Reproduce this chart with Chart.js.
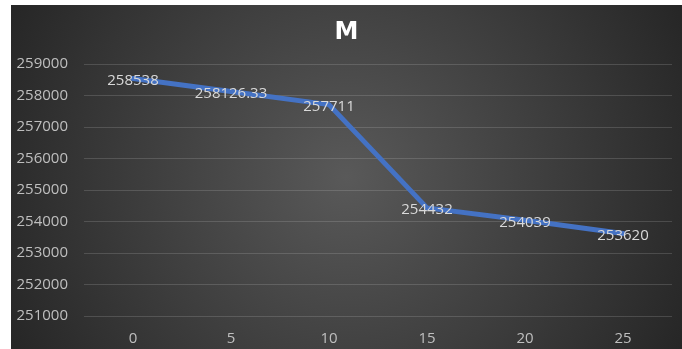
<!DOCTYPE html>
<html>
<head>
<meta charset="utf-8">
<script src="https://cdn.jsdelivr.net/npm/chart.js@4.4.1/dist/chart.umd.min.js"></script>
<style>
  html, body { margin: 0; padding: 0; background: #ffffff; }
  #wrap { position: relative; width: 682px; height: 349px; }
</style>
</head>
<body>
<div id="wrap"><canvas id="c" width="682" height="349"></canvas></div>
<script>
// Series M over the six sample points
const categories = ['0', '5', '10', '15', '20', '25'];
const valuesM = [258538, 258126.33, 257711, 254432, 254039, 253620];
const labelsM = ['258538', '258126.33', '257711', '254432', '254039', '253620'];
const yTicks = [251000, 252000, 253000, 254000, 255000, 256000, 257000, 258000, 259000];

const FONT = "'Open Sans', 'Noto Sans', sans-serif";
const PANEL_LEFT = 11, PANEL_TOP = 5;

// Dark radial backdrop behind the whole chart
const backdrop = {
  id: 'backdrop',
  beforeDraw(chart) {
    const ctx = chart.ctx;
    const w = chart.width - PANEL_LEFT, h = chart.height - PANEL_TOP;
    const cx = PANEL_LEFT + w / 2, cy = PANEL_TOP + h / 2;
    const g = ctx.createRadialGradient(cx, cy, 0, cx, cy, Math.hypot(w, h) / 2);
    g.addColorStop(0, '#595959');
    g.addColorStop(1, '#262626');
    ctx.save();
    ctx.fillStyle = g;
    ctx.fillRect(PANEL_LEFT, PANEL_TOP, w, h);
    ctx.restore();
  }
};

// Centre the title over the dark panel rather than the whole canvas
const titleOverPanel = {
  id: 'titleOverPanel',
  afterLayout(chart) {
    if (chart.titleBlock) {
      chart.titleBlock.left = PANEL_LEFT;
      chart.titleBlock.right = chart.width;
    }
  }
};

// Value labels centred on each point
const valueLabels = {
  id: 'valueLabels',
  afterDatasetsDraw(chart) {
    const ctx = chart.ctx;
    const meta = chart.getDatasetMeta(0);
    ctx.save();
    ctx.font = '15px ' + FONT;
    ctx.fillStyle = '#d9d9d9';
    ctx.textAlign = 'center';
    ctx.textBaseline = 'middle';
    meta.data.forEach((pt, i) => {
      ctx.fillText(labelsM[i], pt.x, pt.y + 2);
    });
    ctx.restore();
  }
};

new Chart(document.getElementById('c'), {
  type: 'line',
  data: {
    labels: categories,
    datasets: [{
      label: 'M',
      data: valuesM,
      borderColor: '#4472c4',
      borderWidth: 5,
      borderJoinStyle: 'round',
      borderCapStyle: 'round',
      pointRadius: 0,
      tension: 0,
      fill: false
    }]
  },
  options: {
    responsive: false,
    animation: false,
    devicePixelRatio: 1,
    layout: { padding: { left: 0, right: 10, top: 0, bottom: 0 } },
    plugins: {
      legend: { display: false },
      tooltip: { enabled: false },
      title: {
        display: true,
        text: 'M',
        color: '#ffffff',
        font: { family: "'DejaVu Sans', sans-serif", size: 24, weight: 'bold', lineHeight: 1.2 },
        padding: { top: 18, bottom: 17.2 }
      }
    },
    scales: {
      x: {
        offset: true,
        grid: { display: false, drawTicks: false },
        border: { display: false },
        ticks: { color: '#bfbfbf', font: { family: FONT, size: 15 }, padding: 14 },
        afterFit(scale) { scale.height = 33; }
      },
      y: {
        min: 251000,
        max: 259000,
        afterBuildTicks(scale) { scale.ticks = yTicks.map(v => ({ value: v })); },
        grid: { color: 'rgba(217,217,217,0.18)', lineWidth: 1, drawTicks: false },
        border: { display: false },
        ticks: {
          color: '#bfbfbf',
          font: { family: FONT, size: 15 },
          padding: 16,
          callback: (v) => String(v)
        },
        afterFit(scale) { scale.width = 84; }
      }
    }
  },
  plugins: [backdrop, titleOverPanel, valueLabels]
});
</script>
</body>
</html>
